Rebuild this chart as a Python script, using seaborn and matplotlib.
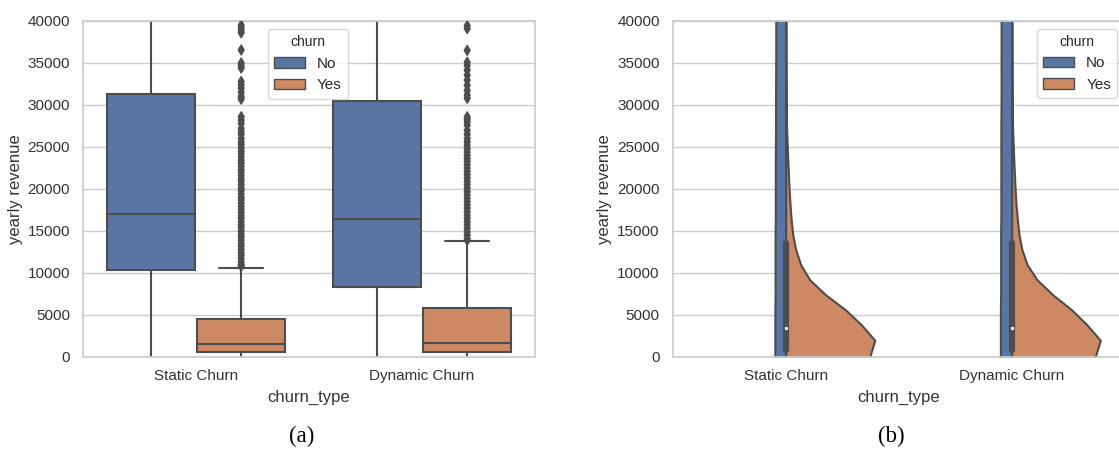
import matplotlib
matplotlib.use("Agg")
import matplotlib.pyplot as plt
from matplotlib.patches import Patch
import numpy as np
import pandas as pd
import seaborn as sns

# ---------------------------------------------------------------- data
churn_types = ["Static Churn", "Dynamic Churn"]
churn_levels = ["No", "Yes"]

# whisker-to-whisker summaries of yearly revenue: low end, Q1, median, Q3, high end
static_no_summary = [-300, 10400, 17050, 31300, 62000]
static_yes_summary = [-300, 560, 1520, 4480, 10600]
dynamic_no_summary = [-300, 8330, 16400, 30470, 62000]
dynamic_yes_summary = [-300, 560, 1680, 5850, 13800]

# customers beyond the upper whisker (churned group)
static_yes_outliers = [
    39500, 39200, 38900, 38600, 36550, 35000, 34700, 34400,
    32800, 32400, 32000, 31500, 31000, 30700,
    28600, 28200, 27800, 27200, 26800, 26500, 26000, 25600, 25300, 24900,
    24500, 24200, 23800, 23400, 23100, 22700, 22300, 22000, 21600, 21200,
    20900, 20500, 20100, 19800, 19400, 19000, 18700, 18300, 17900, 17600,
    17200, 16800, 16500, 16100, 15700, 15400, 15000, 14600, 14300, 13900,
    13500, 13200, 12800, 12400, 12100, 11700, 11300, 11000, 10800,
]
dynamic_yes_outliers = [
    39450, 39100, 36500, 35100, 34700, 34150, 33550, 32950,
    32350, 31750, 31200, 30800,
    28600, 28300, 28000, 27600, 27000, 26500, 26000, 25600, 25200, 24800,
    24400, 24000, 23600, 23300, 22900, 22500, 22100, 21700, 21300, 20900,
    20500, 20100, 19700, 19300, 18900, 18500, 18100, 17700, 17300, 16900,
    16500, 16100, 15700, 15300, 14900, 14500, 14100, 13900,
]

# split-violin outline: half widths (category units) at revenue levels
violin_revenue = [-1600, 200, 2000, 3800, 5600, 7400, 9200, 11000, 12800,
                  14600, 16400, 18200, 20000, 23600, 27200, 30800, 36000, 45000]
static_no_width = [0.048, 0.048, 0.048, 0.048, 0.048, 0.047, 0.047, 0.047, 0.047,
                   0.047, 0.046, 0.046, 0.046, 0.046, 0.045, 0.045, 0.044, 0.044]
static_yes_width = [0.352, 0.374, 0.394, 0.336, 0.265, 0.177, 0.106, 0.066, 0.044,
                    0.031, 0.024, 0.019, 0.015, 0.009, 0.004, 0.002, 0.001, 0.0005]
dynamic_no_width = [0.050, 0.050, 0.050, 0.050, 0.050, 0.049, 0.049, 0.049, 0.049,
                    0.049, 0.048, 0.048, 0.048, 0.048, 0.048, 0.047, 0.047, 0.047]
dynamic_yes_width = [0.350, 0.372, 0.392, 0.334, 0.266, 0.182, 0.112, 0.068, 0.045,
                     0.032, 0.025, 0.019, 0.015, 0.009, 0.004, 0.002, 0.001, 0.0005]

# inner box of the combined distribution: Q1, median, Q3
static_inner = [800, 3500, 13600]
dynamic_inner = [800, 3500, 13600]

# ---------------------------------------------------------------- style
sns.set_theme(style="whitegrid", context="notebook")
plt.rcParams["font.family"] = ["Liberation Sans", "DejaVu Sans"]

deep = sns.color_palette("deep", 2)
soft = sns.color_palette("deep", 2, desat=0.75)
gray = "#4d4d4d"
text_color = "#333333"

W, H = 1119, 451
fig = plt.figure(figsize=(W / 100, H / 100), dpi=100)
ax_box = fig.add_axes([83 / W, 94 / H, 452 / W, 336 / H])
ax_vio = fig.add_axes([672.7 / W, 94 / H, 452 / W, 336 / H])

# ---------------------------------------------------------------- (a) box plot
summaries = {
    ("Static Churn", "No"): static_no_summary,
    ("Static Churn", "Yes"): static_yes_summary,
    ("Dynamic Churn", "No"): dynamic_no_summary,
    ("Dynamic Churn", "Yes"): dynamic_yes_summary,
}
box_df = pd.DataFrame(
    [(ct, lv, v) for (ct, lv), vals in summaries.items() for v in vals],
    columns=["churn_type", "churn", "yearly revenue"],
)
out_df = pd.DataFrame(
    [("Static Churn", "Yes", v) for v in static_yes_outliers]
    + [("Dynamic Churn", "Yes", v) for v in dynamic_yes_outliers],
    columns=["churn_type", "churn", "yearly revenue"],
)

sns.boxplot(data=box_df, x="churn_type", y="yearly revenue", hue="churn",
            order=churn_types, hue_order=churn_levels, palette=deep,
            whis=(0, 100), width=0.8, gap=0.02, linewidth=1.5,
            linecolor=gray, legend=False, ax=ax_box)
sns.stripplot(data=out_df, x="churn_type", y="yearly revenue", hue="churn",
              order=churn_types, hue_order=churn_levels, dodge=True,
              jitter=False, palette={"No": gray, "Yes": gray}, marker="d",
              size=5, linewidth=1, edgecolor=gray, legend=False, ax=ax_box)

# ---------------------------------------------------------------- (b) split violins
profiles = [
    (static_no_width, static_yes_width, static_inner),
    (dynamic_no_width, dynamic_yes_width, dynamic_inner),
]
for pos, (no_w, yes_w, inner) in enumerate(profiles):
    no_w = np.asarray(no_w)
    yes_w = np.asarray(yes_w)
    ax_vio.fill_betweenx(violin_revenue, pos - no_w, pos, facecolor=soft[0],
                         edgecolor=gray, linewidth=1.5, zorder=2)
    ax_vio.fill_betweenx(violin_revenue, pos, pos + yes_w, facecolor=soft[1],
                         edgecolor=gray, linewidth=1.5, zorder=2)
    q1, med, q3 = inner
    ax_vio.plot([pos, pos], [q1, q3], color=gray, linewidth=4.5,
                solid_capstyle="round", zorder=3)
    ax_vio.scatter([pos], [med], s=6, color="white", zorder=4, linewidth=0)

ax_vio.set_xticks(range(len(churn_types)), churn_types)

# ---------------------------------------------------------------- shared axis look
handles = [Patch(facecolor=soft[i], edgecolor=gray, linewidth=1.0, label=lv)
           for i, lv in enumerate(churn_levels)]

for ax in (ax_box, ax_vio):
    ax.set_xlim(-0.5, 1.5)
    ax.set_ylim(0, 40000)
    ax.set_yticks(range(0, 40001, 5000))
    ax.xaxis.grid(False)
    ax.yaxis.grid(True)
    ax.set_axisbelow(True)
    ax.tick_params(axis="y", length=0, pad=9.4, labelsize=11, labelcolor=text_color)
    ax.tick_params(axis="x", length=0, pad=8.5, labelsize=11, labelcolor=text_color)
    ax.set_xlabel("churn_type", fontsize=12, labelpad=5, color=text_color)
    ax.set_ylabel("yearly revenue", fontsize=12, labelpad=3.5, color=text_color)

leg_a = ax_box.legend(handles=handles, title="churn", loc="upper left",
                      bbox_to_anchor=(0.409, 0.976), borderaxespad=0,
                      fontsize=11, title_fontsize=10)
leg_b = ax_vio.legend(handles=handles, title="churn", loc="upper right",
                      fontsize=11, title_fontsize=10)

# sub-figure captions
fig.text(301.5 / W, 15 / H, "(a)", ha="center", va="center",
         family="Liberation Serif", fontsize=16.5, color="black")
fig.text(891.5 / W, 15 / H, "(b)", ha="center", va="center",
         family="Liberation Serif", fontsize=16.5, color="black")

fig.savefig("out.png", dpi=100)
